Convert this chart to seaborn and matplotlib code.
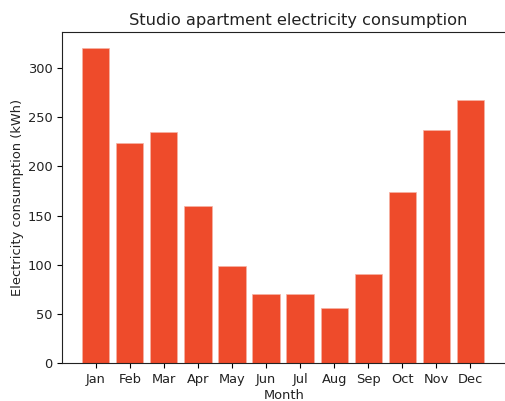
import matplotlib
matplotlib.use("Agg")
import matplotlib.pyplot as plt
import seaborn as sns
import pandas as pd

months = ["Jan", "Feb", "Mar", "Apr", "May", "Jun", "Jul", "Aug", "Sep", "Oct", "Nov", "Dec"]
consumption = [320, 224, 235, 160, 99, 70, 70, 56, 91, 174, 237, 267]

df = pd.DataFrame({"Month": months, "kWh": consumption})

plt.rcParams.update({
    "font.size": 9.4,
    "axes.titlesize": 11.7,
    "axes.labelsize": 9.4,
    "xtick.labelsize": 9.4,
    "ytick.labelsize": 9.4,
    "text.color": "#222222",
    "axes.labelcolor": "#222222",
    "xtick.labelcolor": "#222222",
    "ytick.labelcolor": "#222222",
    "axes.edgecolor": "#222222",
    "xtick.major.size": 3.3,
    "ytick.major.size": 3.3,
})

fig = plt.figure(figsize=(5.05, 4.01), dpi=100)
ax = fig.add_axes([62 / 505, 1 - 363.3 / 401, 443.5 / 505, (363.3 - 32) / 401])
sns.barplot(data=df, x="Month", y="kWh", color="#EE4B2B", saturation=1,
            width=0.8, edgecolor="#f5b3a5", linewidth=0.5, ax=ax)
ax.set_xlim(-0.99, 12.03)
ax.set_ylim(0, 336.3)
ax.spines["right"].set_visible(False)
ax.set_title("Studio apartment electricity consumption", pad=5, x=0.532)
ax.set_xlabel("Month", labelpad=2)
ax.set_ylabel("Electricity consumption (kWh)", labelpad=3)
fig.savefig("out.png", dpi=100)
